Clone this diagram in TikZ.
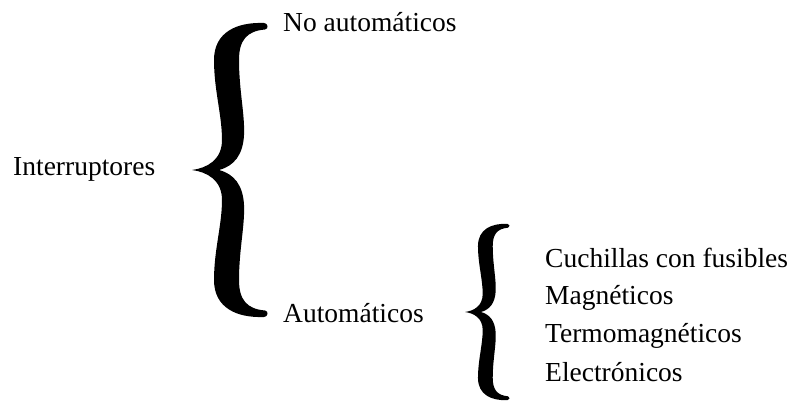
\documentclass[tikz,border=0pt]{standalone}
\usepackage{fontspec}
\setmainfont{Liberation Serif}
\tikzset{
  curlybrace/.pic={
    \fill[black] (0,0) .. controls (15,2) and (30,10) .. (30,30)
      .. controls (30,55) and (22,80) .. (22,110)
      .. controls (22,138) and (45,148) .. (72,147)
      .. controls (76,147) and (77,141) .. (73,140.5)
      .. controls (55,139) and (47,130) .. (47,110)
      .. controls (47,80) and (53,55) .. (52,35)
      .. controls (51,15) and (42,4) .. (27,0)
      .. controls (42,-4) and (51,-15) .. (52,-35)
      .. controls (53,-55) and (47,-80) .. (47,-110)
      .. controls (47,-130) and (55,-139) .. (73,-140.5)
      .. controls (77,-141) and (76,-147) .. (72,-147)
      .. controls (45,-148) and (22,-138) .. (22,-110)
      .. controls (22,-80) and (30,-55) .. (30,-30)
      .. controls (30,-10) and (15,-2) .. (0,0) -- cycle;
  },
  lbl/.style={anchor=base west, inner sep=0pt, font=\fontsize{27.5}{33}\selectfont}
}
\begin{document}
\begin{tikzpicture}[x=1pt,y=-1pt]
\useasboundingbox (0,0) rectangle (793,403);
\node[lbl] (root) at (13,176) {Interruptores};
\node[lbl] (noauto) at (283,32) {No automáticos};
\node[lbl] (auto) at (283,323) {Automáticos};
\node[lbl] (c1) at (545,268) {Cuchillas con fusibles};
\node[lbl] (c2) at (545,305) {Magnéticos};
\node[lbl] (c3) at (545,343) {Termomagnéticos};
\node[lbl] (c4) at (545,382) {Electrónicos};
\pic at (192,170) {curlybrace};
\pic[xscale=0.59,yscale=0.6] at (465,312) {curlybrace};
\end{tikzpicture}
\end{document}
